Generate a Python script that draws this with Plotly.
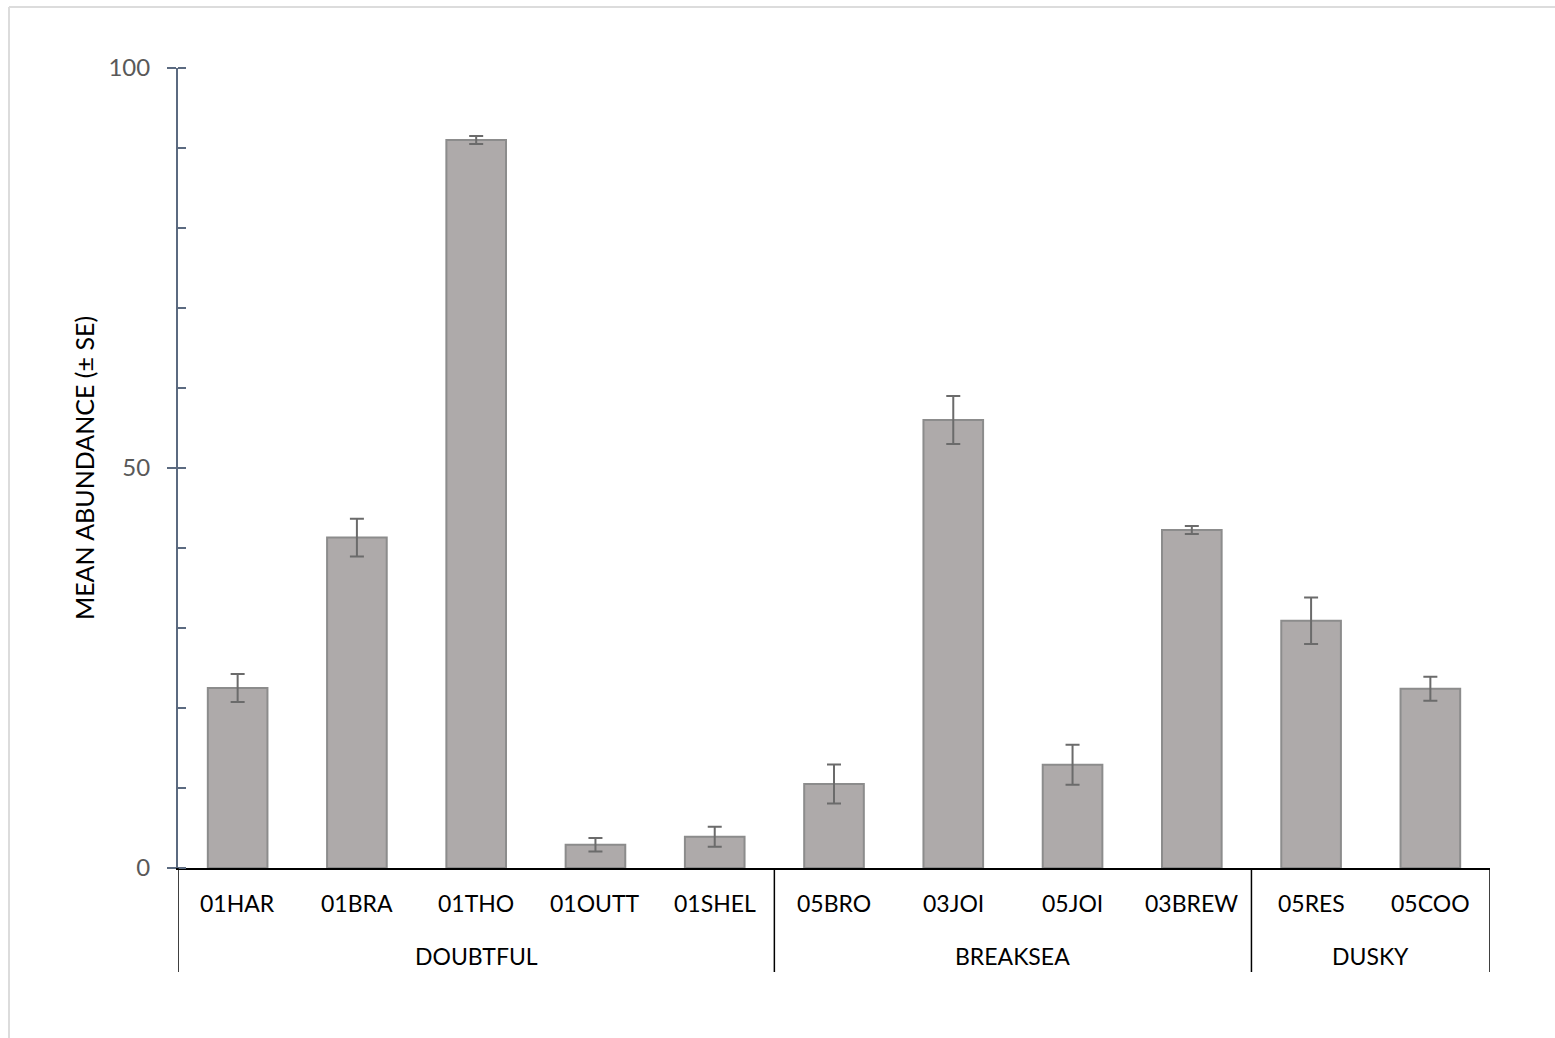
import plotly.graph_objects as go

sites = ["01HAR", "01BRA", "01THO", "01OUTT", "01SHEL", "05BRO", "03JOI", "05JOI", "03BREW", "05RES", "05COO"]
groups = ["DOUBTFUL", "BREAKSEA", "DUSKY"]
group_sizes = [5, 4, 2]
means = [22.5, 41.3, 91.0, 2.9, 3.9, 10.5, 56.0, 12.9, 42.25, 30.9, 22.4]
se = [1.75, 2.37, 0.5, 0.85, 1.25, 2.45, 3.0, 2.5, 0.5, 2.9, 1.5]
y_major = [0, 50, 100]

W, H = 1555, 1038
L, R, T, B = 178, 65, 68, 170
pw, ph = W - L - R, H - T - B
FONT = "Lato, Open Sans, sans-serif"

fig = go.Figure()
fig.add_trace(go.Bar(
    x=list(range(len(sites))), y=means,
    width=0.5,
    marker=dict(color="#aeaaaa", line=dict(color="#8c8c8c", width=2)),
    error_y=dict(type="data", array=se, visible=True, color="#6b6b6b", thickness=2, width=7),
    showlegend=False,
))

shapes = []
annotations = []
n = len(sites)
def px_x(px):
    return (px - L) / pw
def py(px):
    return (H - B - px) / ph

# category labels
for i, s in enumerate(sites):
    annotations.append(dict(x=i, y=py(903), xref="x", yref="paper", text=s, showarrow=False,
                            font=dict(family=FONT, size=23, color="#000000"),
                            xanchor="center", yanchor="middle"))

# group separators and labels
bottom = py(972)
start = 0
bounds = [-0.5]
for g, sz in zip(groups, group_sizes):
    end = start + sz
    bounds.append(end - 0.5)
    annotations.append(dict(x=(start + end - 1) / 2, y=py(956), xref="x", yref="paper", text=g, showarrow=False,
                            font=dict(family=FONT, size=23, color="#000000"),
                            xanchor="center", yanchor="middle"))
    start = end
for b in bounds:
    shapes.append(dict(type="line", xref="x", yref="paper", x0=b, x1=b, y0=0, y1=bottom,
                       line=dict(color="#000000", width=1.5)))

# inside part of major ticks
for v in y_major:
    shapes.append(dict(type="line", xref="paper", yref="y", x0=0, x1=8 / pw, y0=v, y1=v,
                       line=dict(color="#5b6a80", width=2)))

# outer light border
shapes.append(dict(type="line", xref="paper", yref="paper", x0=px_x(9), x1=px_x(W), y0=py(7), y1=py(7),
                   line=dict(color="#dcdcdc", width=2)))
shapes.append(dict(type="line", xref="paper", yref="paper", x0=px_x(9), x1=px_x(9), y0=py(7), y1=py(H),
                   line=dict(color="#dcdcdc", width=2)))

fig.update_layout(
    width=W, height=H,
    margin=dict(l=L, r=R, t=T, b=B, pad=0),
    paper_bgcolor="white", plot_bgcolor="white",
    shapes=shapes, annotations=annotations,
    xaxis=dict(range=[-0.5, n - 0.5], showticklabels=False, ticks="", showgrid=False, zeroline=False,
               showline=True, linecolor="#000000", linewidth=1.5, fixedrange=True),
    yaxis=dict(range=[0, 100], tickvals=y_major, ticks="outside", ticklen=9, tickwidth=2, tickcolor="#5b6a80",
               showline=True, linecolor="#5b6a80", linewidth=2, showgrid=False, zeroline=False,
               ticklabelstandoff=12,
               tickfont=dict(family=FONT, size=24, color="#595959"),
               minor=dict(dtick=10, tick0=0, ticks="inside", ticklen=8, tickwidth=2, tickcolor="#5b6a80"),
               title=dict(text="MEAN ABUNDANCE (± SE)", standoff=7,
                          font=dict(family=FONT, size=25, color="#000000"))),
    bargap=0.5,
)

fig.write_html("out.html")
